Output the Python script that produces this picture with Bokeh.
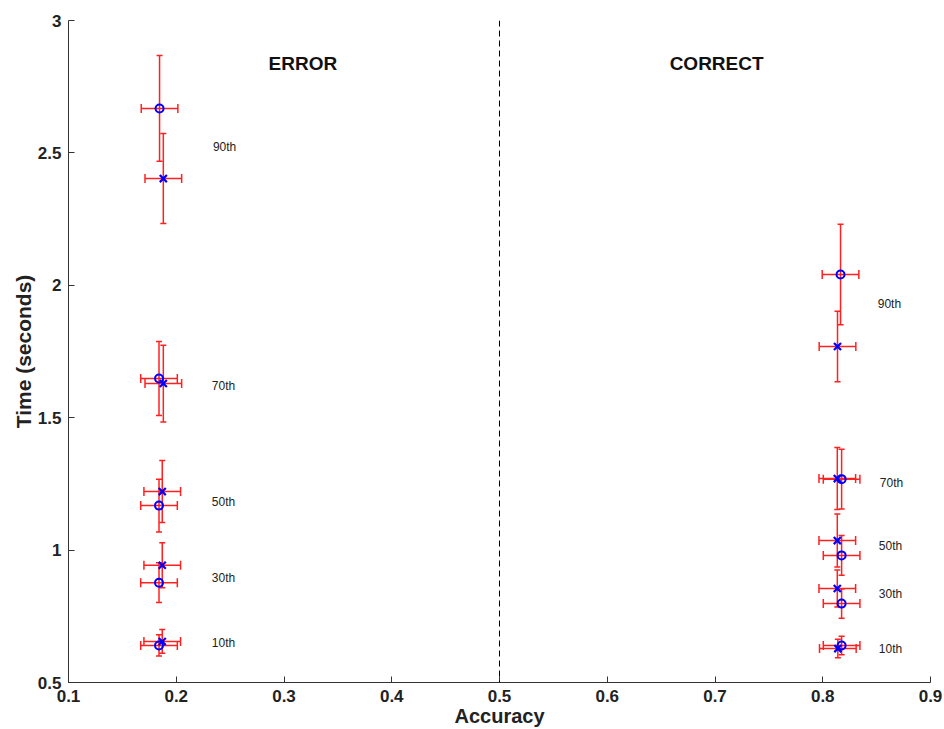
from bokeh.plotting import figure
from bokeh.models import ColumnDataSource, Whisker, TeeHead, Span, Label, FixedTicker
from bokeh.embed import file_html
from bokeh.resources import INLINE

# ---- data ----
pctl_labels = ["10th", "30th", "50th", "70th", "90th"]

err_o_acc = [0.184, 0.184, 0.184, 0.184, 0.1845]
err_o_time = [0.640, 0.877, 1.168, 1.648, 2.668]
err_o_terr = [0.040, 0.075, 0.100, 0.140, 0.200]

err_x_acc = [0.187, 0.187, 0.187, 0.188, 0.188]
err_x_time = [0.655, 0.943, 1.221, 1.629, 2.403]
err_x_terr = [0.045, 0.085, 0.117, 0.145, 0.170]

cor_o_acc = [0.8175, 0.8175, 0.8175, 0.8175, 0.8165]
cor_o_time = [0.640, 0.798, 0.980, 1.268, 2.041]
cor_o_terr = [0.035, 0.055, 0.075, 0.113, 0.190]

cor_x_acc = [0.814, 0.8135, 0.8135, 0.8135, 0.8137]
cor_x_time = [0.628, 0.855, 1.036, 1.270, 1.769]
cor_x_terr = [0.035, 0.070, 0.100, 0.117, 0.133]

acc_err = 0.017

err_lab_x = [0.233, 0.233, 0.233, 0.233, 0.234]
err_lab_y = [0.651, 0.893, 1.180, 1.620, 2.524]
cor_lab_x = [0.852, 0.852, 0.852, 0.853, 0.851]
cor_lab_y = [0.628, 0.836, 1.014, 1.255, 1.930]

x_ticks = [0.1, 0.2, 0.3, 0.4, 0.5, 0.6, 0.7, 0.8, 0.9]
y_ticks = [0.5, 1.0, 1.5, 2.0, 2.5, 3.0]

FONT = "Liberation Sans"

p = figure(width=944, height=729, x_range=(0.1, 0.9), y_range=(0.5, 3.0),
           output_backend="svg", toolbar_location=None,
           min_border_left=68, min_border_right=14, min_border_top=20, min_border_bottom=47)
p.outline_line_color = None
p.xgrid.visible = False
p.ygrid.visible = False

for ax in (p.xaxis[0], p.yaxis[0]):
    ax.major_tick_in = 6
    ax.major_tick_out = 0
    ax.minor_tick_line_color = None
    ax.major_label_text_font = FONT
    ax.major_label_text_font_style = "bold"
    ax.major_label_text_font_size = "17px"
    ax.major_label_text_color = "#222222"
    ax.axis_label_text_font = FONT
    ax.axis_label_text_font_style = "bold"
    ax.axis_label_text_color = "#222222"
    ax.axis_line_color = "#333333"
    ax.major_tick_line_color = "#333333"

p.xaxis.axis_label_text_font_size = "20px"
p.yaxis.axis_label_text_font_size = "21px"
p.xaxis.ticker = FixedTicker(ticks=x_ticks)
p.yaxis.ticker = FixedTicker(ticks=y_ticks)
p.xaxis.major_label_overrides = {0.5: "0.5", 0.1: "0.1"}
p.yaxis.major_label_overrides = {1.0: "1", 2.0: "2", 3.0: "3"}
p.xaxis.axis_label = "Accuracy"
p.yaxis.axis_label = "Time (seconds)"
p.xaxis.axis_label_standoff = 0
p.yaxis.axis_label_standoff = 0
p.xaxis.major_label_standoff = 7
p.yaxis.major_label_standoff = 7

p.add_layout(Span(location=0.5, dimension="height", line_color="black",
                  line_dash="6 4", line_width=1))

RED = "#ff2020"

def add_series(accs, times, terrs, marker):
    src = ColumnDataSource(dict(
        x=accs, y=times,
        yl=[t - e for t, e in zip(times, terrs)],
        yu=[t + e for t, e in zip(times, terrs)],
        xl=[a - acc_err for a in accs],
        xu=[a + acc_err for a in accs],
    ))
    wv = Whisker(source=src, base="x", lower="yl", upper="yu", dimension="height",
                 line_color=RED, line_width=1.5,
                 upper_head=TeeHead(size=6, line_color=RED, line_width=1.5),
                 lower_head=TeeHead(size=6, line_color=RED, line_width=1.5))
    wh = Whisker(source=src, base="y", lower="xl", upper="xu", dimension="width",
                 line_color=RED, line_width=1.5,
                 upper_head=TeeHead(size=9, line_color=RED, line_width=1.5),
                 lower_head=TeeHead(size=9, line_color=RED, line_width=1.5))
    wv.level = "underlay"
    wh.level = "underlay"
    p.add_layout(wv)
    p.add_layout(wh)
    if marker == "circle":
        p.scatter("x", "y", source=src, marker="circle", size=8,
                  fill_color=None, line_color="blue", line_width=2)
    else:
        p.scatter("x", "y", source=src, marker="x", size=10,
                  line_color="blue", line_width=2.2)

add_series(err_o_acc, err_o_time, err_o_terr, "circle")
add_series(err_x_acc, err_x_time, err_x_terr, "x")
add_series(cor_o_acc, cor_o_time, cor_o_terr, "circle")
add_series(cor_x_acc, cor_x_time, cor_x_terr, "x")

for lx, ly, t in zip(err_lab_x, err_lab_y, pctl_labels):
    p.add_layout(Label(x=lx, y=ly, text=t, text_font=FONT, text_font_size="12px",
                       text_baseline="middle", text_align="left", text_color="#222222"))
for lx, ly, t in zip(cor_lab_x, cor_lab_y, pctl_labels):
    p.add_layout(Label(x=lx, y=ly, text=t, text_font=FONT, text_font_size="12px",
                       text_baseline="middle", text_align="left", text_color="#222222"))

p.add_layout(Label(x=0.3175, y=2.838, text="ERROR", text_font=FONT, text_font_size="19px",
                   text_font_style="bold", text_align="center", text_baseline="middle",
                   text_color="#111111"))
p.add_layout(Label(x=0.7015, y=2.838, text="CORRECT", text_font=FONT, text_font_size="19px",
                   text_font_style="bold", text_align="center", text_baseline="middle",
                   text_color="#111111"))

open("out.html", "w").write(file_html(p, INLINE))
